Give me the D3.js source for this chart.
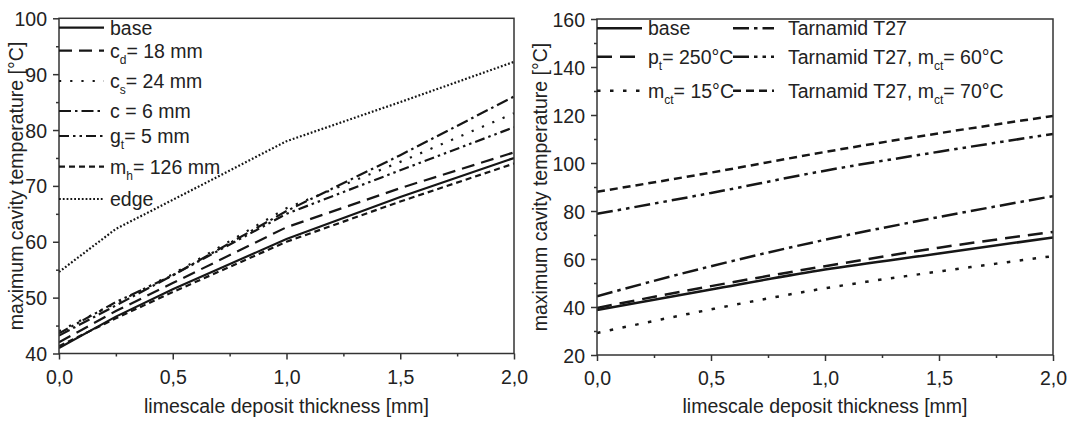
<!DOCTYPE html>
<html><head><meta charset="utf-8">
<script src="https://cdn.jsdelivr.net/npm/d3@7"></script>
<style>
body{margin:0;background:#fff}
svg{display:block}
text{font-family:"Liberation Sans",Arial,sans-serif;fill:#222}
</style>
</head><body>
<svg id="c" width="1068" height="426"></svg>
<script>
// ---------- data: left panel ----------
const thicknessL = [0, 0.25, 0.5, 1.0, 1.5, 2.0];
const baseL  = [41.0, 46.6, 51.5, 60.5, 68.0, 75.0];
const cdL    = [42.0, 47.6, 52.6, 62.6, 69.6, 76.0];
const csL    = [44.0, 49.0, 54.2, 66.0, 74.3, 83.0];
const cL     = [43.2, 48.6, 54.0, 65.5, 75.5, 86.0];
const gtL    = [43.6, 49.2, 54.0, 65.0, 72.8, 80.5];
const mhL    = [41.3, 46.3, 51.0, 60.0, 67.2, 74.0];
const edgeL  = [54.6, 62.3, 67.5, 78.0, 85.0, 92.2];

// ---------- data: right panel ----------
const thicknessR = [0, 0.5, 1.0, 1.5, 2.0];
const baseR   = [38.7, 47.3, 55.6, 62.3, 69.0];
const ptR     = [39.6, 48.7, 57.0, 64.7, 71.3];
const mct15R  = [29.2, 39.0, 47.8, 54.8, 61.2];
const t27R    = [44.5, 57.0, 68.0, 77.5, 86.2];
const t27m60R = [78.8, 87.5, 96.8, 104.7, 112.1];
const t27m70R = [88.0, 96.0, 104.6, 112.4, 119.6];

// ---------- ticks / labels ----------
const xMajor = [0, 0.5, 1.0, 1.5, 2.0];
const xMinor = [0.25, 0.75, 1.25, 1.75];
const yMajorL = [40, 50, 60, 70, 80, 90, 100];
const yMinorL = [45, 55, 65, 75, 85, 95];
const yMajorR = [20, 40, 60, 80, 100, 120, 140, 160];
const yMinorR = [30, 50, 70, 90, 110, 130, 150];
const xTitle = "limescale deposit thickness [mm]";
const yTitle = "maximum cavity temperature [°C]";

// legend labels: [text, subscript, rest]
const labelsL = [
  ["base", "", ""],
  ["c", "d", "= 18 mm"],
  ["c", "s", "= 24 mm"],
  ["c = 6 mm", "", ""],
  ["g", "t", "= 5 mm"],
  ["m", "h", "= 126 mm"],
  ["edge", "", ""]
];
const labelsR = [
  ["base", "", ""],
  ["p", "t", "= 250°C"],
  ["m", "ct", "= 15°C"],
  ["Tarnamid T27", "", ""],
  ["Tarnamid T27, m", "ct", "= 60°C"],
  ["Tarnamid T27, m", "ct", "= 70°C"]
];

// ---------- styles (presentation only) ----------
const dashL = [null, "13,7", "2.2,9", "12,4,2.5,4", "10,4,2.5,4,2.5,4", "6,4", "1.8,2"];
const dashR = [null, "15,8", "3.5,9.5", "16,5,3.5,5", "16,5,3.5,5,3.5,5", "8,5"];

const svg = d3.select("#c");
const ink = "#161616";

function panel(o) {
  const x = d3.scaleLinear().domain([0, 2]).range([o.x0, o.x1]);
  const y = d3.scaleLinear().domain(o.yDom).range([o.y0, o.y1]);
  const g = svg.append("g");

  const clipId = "clip" + o.id;
  svg.append("clipPath").attr("id", clipId).append("rect")
    .attr("x", o.x0).attr("y", o.y1).attr("width", o.x1 - o.x0).attr("height", o.y0 - o.y1);

  // series
  const line = d3.line().x(d => x(d[0])).y(d => y(d[1])).curve(o.curve);
  o.series.forEach((s, i) => {
    const pts = o.xs.map((v, k) => [v, s[k]]);
    g.append("path").attr("d", line(pts))
      .attr("fill", "none").attr("stroke", ink)
      .attr("stroke-width", o.lw)
      .attr("stroke-dasharray", o.dash[i])
      .attr("clip-path", `url(#${clipId})`);
  });

  // frame
  g.append("rect").attr("x", o.x0).attr("y", o.y1)
    .attr("width", o.x1 - o.x0).attr("height", o.y0 - o.y1)
    .attr("fill", "none").attr("stroke", "#333").attr("stroke-width", 1.5);

  // axes
  const fmt = d => d.toFixed(1).replace(".", ",");
  const xa = g.append("g").attr("transform", `translate(0,${o.y0})`)
    .call(d3.axisBottom(x).tickValues(xMajor).tickSize(6).tickPadding(3).tickFormat(fmt));
  const xm = g.append("g").attr("transform", `translate(0,${o.y0})`)
    .call(d3.axisBottom(x).tickValues(xMinor).tickSize(3).tickFormat(""));
  const ya = g.append("g").attr("transform", `translate(${o.x0},0)`)
    .call(d3.axisLeft(y).tickValues(o.yMajor).tickSize(6).tickPadding(6));
  const ym = g.append("g").attr("transform", `translate(${o.x0},0)`)
    .call(d3.axisLeft(y).tickValues(o.yMinor).tickSize(3).tickFormat(""));
  [xa, xm, ya, ym].forEach(a => {
    a.select(".domain").remove();
    a.selectAll("line").attr("stroke", "#333").attr("stroke-width", 1.5);
    a.selectAll("text").attr("font-size", 19.5).attr("fill", "#222")
      .attr("font-family", '"Liberation Sans",Arial,sans-serif');
  });
  xa.selectAll("text").attr("dy", null).attr("y", 30);
  ya.selectAll("text").attr("dy", "0.36em");

  // titles
  g.append("text").attr("x", (o.x0 + o.x1) / 2).attr("y", 413)
    .attr("text-anchor", "middle").attr("font-size", 19.5).text(xTitle);
  g.append("text").attr("transform", `translate(${o.ytx},${(o.y0 + o.y1) / 2}) rotate(-90)`)
    .attr("text-anchor", "middle").attr("font-size", 19.5).text(yTitle);

  // legend
  o.legend.forEach((it, i) => {
    const ly = it.y;
    g.append("line").attr("x1", it.lx0).attr("x2", it.lx1).attr("y1", ly).attr("y2", ly)
      .attr("stroke", ink).attr("stroke-width", o.lw).attr("stroke-dasharray", o.dash[i]);
    const t = g.append("text").attr("x", it.tx).attr("y", ly + 7).attr("font-size", 19.5);
    const lab = o.labels[i];
    t.append("tspan").text(lab[0]);
    if (lab[1]) {
      t.append("tspan").attr("font-size", 12).attr("dy", 6).text(lab[1]);
      t.append("tspan").attr("dy", -6).text(lab[2]);
    }
  });
}

const rowsL = [27.7, 50.7, 81, 111, 136, 166.7, 199];
panel({
  id: "L", x0: 59, x1: 514, y0: 353.5, y1: 18.3, yDom: [40, 100],
  xs: thicknessL, series: [baseL, cdL, csL, cL, gtL, mhL, edgeL],
  dash: dashL, lw: 2.2, curve: d3.curveLinear,
  yMajor: yMajorL, yMinor: yMinorL, ytx: 23,
  labels: labelsL,
  legend: rowsL.map(r => ({ y: r, lx0: 59, lx1: 104, tx: 110 }))
});

const rowsR = [28.3, 56.7, 90.7];
panel({
  id: "R", x0: 597, x1: 1053, y0: 355, y1: 19, yDom: [20, 160],
  xs: thicknessR, series: [baseR, ptR, mct15R, t27R, t27m60R, t27m70R],
  dash: dashR, lw: 2.5, curve: d3.curveMonotoneX,
  yMajor: yMajorR, yMinor: yMinorR, ytx: 547,
  labels: labelsR,
  legend: [0, 1, 2].map(i => ({ y: rowsR[i], lx0: 597, lx1: 642, tx: 648 }))
    .concat([0, 1, 2].map(i => ({ y: rowsR[i], lx0: 733, lx1: 774, tx: 788 })))
});
</script>
</body></html>
